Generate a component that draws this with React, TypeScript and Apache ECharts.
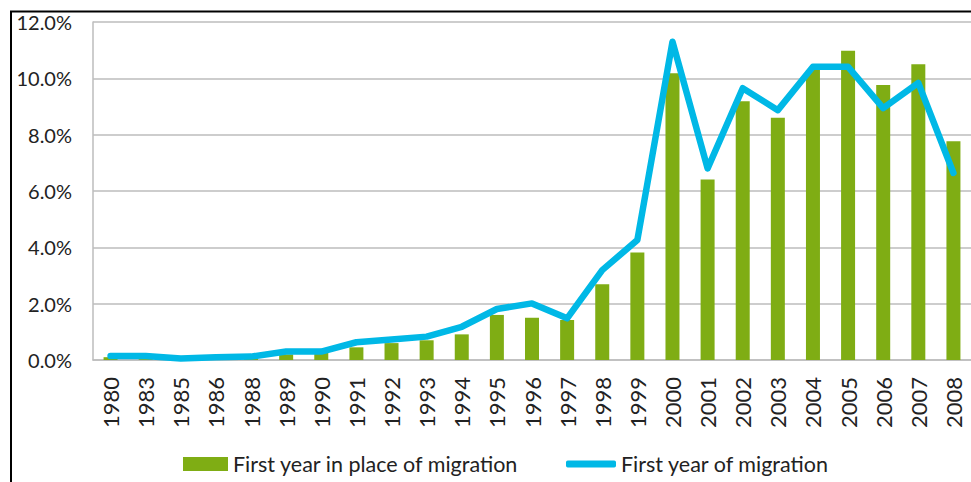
import { useEffect, useRef } from "react";
import * as echarts from "echarts";

const years = [
  "1980", "1983", "1985", "1986", "1988", "1989", "1990", "1991", "1992", "1993",
  "1994", "1995", "1996", "1997", "1998", "1999", "2000", "2001", "2002", "2003",
  "2004", "2005", "2006", "2007", "2008",
];

// First year in place of migration (bars), %
const placeShares = [
  0.1, 0.03, 0.02, 0.04, 0.05, 0.2, 0.25, 0.45, 0.6, 0.7,
  0.91, 1.6, 1.5, 1.42, 2.69, 3.82, 10.18, 6.41, 9.19, 8.6,
  10.3, 10.98, 9.76, 10.5, 7.77,
];

// First year of migration (line), %
const migrationShares = [
  0.14, 0.14, 0.05, 0.1, 0.12, 0.3, 0.3, 0.63, 0.73, 0.83,
  1.18, 1.81, 2.01, 1.48, 3.19, 4.26, 11.3, 6.8, 9.65, 8.87,
  10.41, 10.41, 8.94, 9.84, 6.64,
];

const barName = "First year in place of migration";
const lineName = "First year of migration";

const FONT = "Lato";
const TEXT = "#222222";

export default function App() {
  const ref = useRef<HTMLDivElement>(null);

  useEffect(() => {
    const chart = echarts.init(ref.current!, null, { renderer: "svg" });
    chart.setOption({
      animation: false,
      backgroundColor: "#ffffff",
      textStyle: { fontFamily: FONT, color: TEXT },
      grid: { left: 93, right: -10, top: 22, bottom: 122, containLabel: false },
      xAxis: {
        type: "category",
        data: years,
        boundaryGap: true,
        axisLine: { show: true, lineStyle: { color: "#bdbdbd", width: 1.5 } },
        axisTick: { show: false },
        axisLabel: {
          rotate: 90,
          margin: 17,
          fontSize: 22,
          fontFamily: FONT,
          color: TEXT,
          interval: 0,
        },
      },
      yAxis: {
        type: "value",
        min: 0,
        max: 12,
        interval: 2,
        axisLine: { show: true, lineStyle: { color: "#bdbdbd", width: 1.5 } },
        axisTick: { show: false },
        splitLine: { show: true, lineStyle: { color: "#bdbdbd", width: 1.5 } },
        axisLabel: {
          margin: 21,
          fontSize: 20,
          fontFamily: FONT,
          color: TEXT,
          formatter: (v: number) => v.toFixed(1) + "%",
        },
      },
      legend: [
        {
          data: [{ name: barName, icon: "rect" }],
          left: 183,
          top: 452,
          itemWidth: 45,
          itemHeight: 14,
          padding: 0,
          textStyle: { fontSize: 21.5, fontFamily: FONT, color: TEXT, lineHeight: 24 },
        },
        {
          data: [{ name: lineName, icon: "roundRect" }],
          left: 566,
          top: 452,
          itemWidth: 50,
          itemHeight: 7,
          padding: 0,
          textStyle: { fontSize: 21.5, fontFamily: FONT, color: TEXT, lineHeight: 24 },
        },
      ],
      graphic: [
        {
          type: "polyline",
          shape: { points: [[11, 482], [11, 11.5], [971, 11.5]] },
          style: { stroke: "#000000", lineWidth: 2, fill: "none" },
          z: 100,
        },
      ],
      series: [
        {
          name: barName,
          type: "bar",
          data: placeShares,
          barWidth: 14,
          itemStyle: { color: "#7fad14" },
          z: 2,
        },
        {
          name: lineName,
          type: "line",
          data: migrationShares,
          showSymbol: false,
          symbol: "none",
          lineStyle: { color: "#00b8e6", width: 6.5, cap: "round", join: "round" },
          itemStyle: { color: "#00b8e6" },
          z: 3,
        },
      ],
    });
    return () => chart.dispose();
  }, []);

  return (
    <div
      ref={ref}
      style={{ position: "absolute", left: 0, top: 0, width: 971, height: 482 }}
    />
  );
}
